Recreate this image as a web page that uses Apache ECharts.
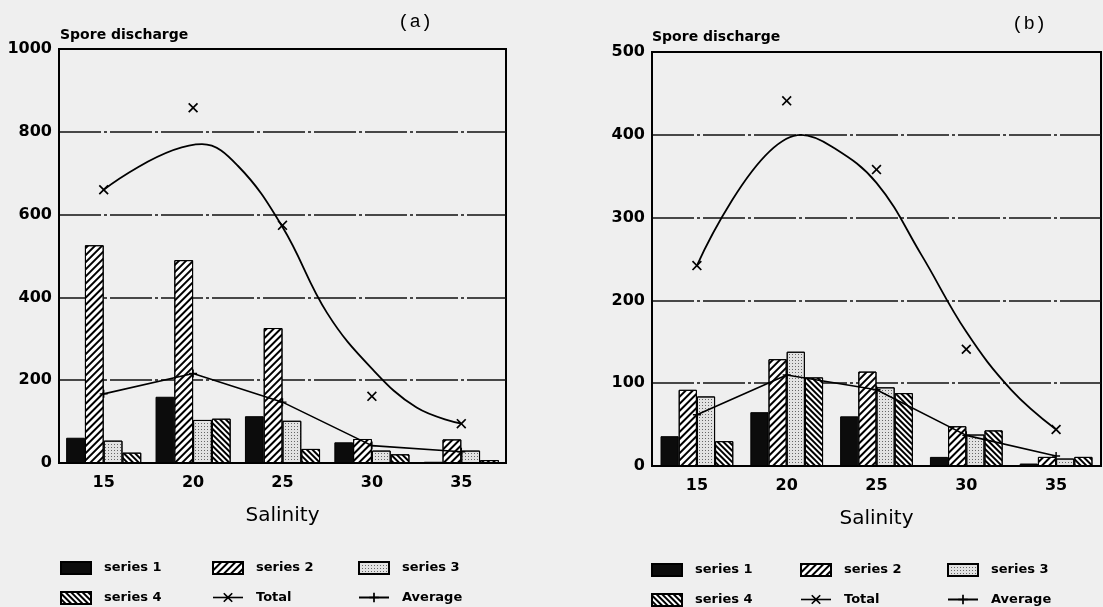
<!DOCTYPE html>
<html>
<head>
<meta charset="utf-8">
<script src="https://cdn.jsdelivr.net/npm/echarts@6/dist/echarts.min.js"></script>
<style>
html,body{margin:0;padding:0;background:#efefef;}
#chart{width:1103px;height:607px;}
</style>
</head>
<body>
<div id="chart"></div>
<script>
// ---------- data ----------
const salinity = ['15', '20', '25', '30', '35'];

// panel (a)
const aSeries1 = [61, 160, 113, 50, 3];
const aSeries2 = [526, 490, 326, 58, 57];
const aSeries3 = [54, 104, 102, 30, 30];
const aSeries4 = [25, 107, 34, 21, 7];
const aTotal   = [660, 858, 574, 161, 95];
const aAverage = [167, 216, 147, 42, 27];
const aFitX    = [15, 20.5, 22.5, 25, 27.5, 30, 32.5, 35];
const aFitY    = [660, 770, 718, 570, 362, 228, 134, 95];

// panel (b)
const bSeries1 = [36, 65, 60, 11, 3];
const bSeries2 = [92, 129, 114, 48, 11];
const bSeries3 = [84, 138, 95, 38, 9];
const bSeries4 = [30, 107, 88, 43, 11];
const bTotal   = [242, 441, 358, 141, 44];
const bAverage = [62, 110, 92, 37, 12];
const bFitX    = [15, 20.8, 22.5, 25, 27.5, 30, 32.5, 35];
const bFitY    = [242, 400, 386, 342, 255, 162, 92, 44];

const aTicks = {min: 0, max: 1000, interval: 200};
const bTicks = {min: 0, max: 500, interval: 100};

// ---------- styles ----------
const FONT = 'DejaVu Sans';
const X_SYM = 'path://M0,1.2L1.2,0L5,3.8L8.8,0L10,1.2L6.2,5L10,8.8L8.8,10L5,6.2L1.2,10L0,8.8L3.8,5Z';
const PLUS_SYM = 'path://M4.1,0H5.9V4.1H10V5.9H5.9V10H4.1V5.9H0V4.1H4.1Z';

const barStyles = [
  {color: '#0c0c0c', borderColor: '#000', borderWidth: 1},
  {color: '#ffffff', borderColor: '#000', borderWidth: 1,
   decal: {symbol: 'rect', symbolSize: 1, dashArrayX: [1, 0], dashArrayY: [1.6, 2.6], rotation: -Math.PI / 4, color: '#000'}},
  {color: '#e2e2e2', borderColor: '#000', borderWidth: 1,
   decal: {symbol: 'rect', symbolSize: 1, dashArrayX: [1, 1.2], dashArrayY: [1, 1.2], rotation: 0, color: '#666'}},
  {color: '#ffffff', borderColor: '#000', borderWidth: 1,
   decal: {symbol: 'rect', symbolSize: 1, dashArrayX: [1, 0], dashArrayY: [1.2, 1.3], rotation: Math.PI / 4, color: '#000'}}
];
const barNames = ['series 1', 'series 2', 'series 3', 'series 4'];

function gridLineStyle() {
  return {show: true, showMinLine: false, showMaxLine: false,
          lineStyle: {color: '#111', width: 1.6, type: [42, 3, 3, 3]}};
}

function xCat(gridIndex) {
  return {
    type: 'category', gridIndex: gridIndex, data: salinity,
    boundaryGap: true,
    axisTick: {show: false},
    axisLine: {show: true, lineStyle: {color: '#000', width: 2}},
    axisLabel: {color: '#000', fontFamily: FONT, fontWeight: 'bold', fontSize: 16, margin: 12},
    name: 'Salinity', nameLocation: 'middle', nameGap: 43,
    nameTextStyle: {color: '#000', fontFamily: FONT, fontSize: 20}
  };
}
function xVal(gridIndex) {
  return {type: 'value', gridIndex: gridIndex, min: 12.5, max: 37.5, show: false};
}
function yVal(gridIndex, t) {
  return {
    type: 'value', gridIndex: gridIndex, min: t.min, max: t.max, interval: t.interval,
    axisLine: {show: true, lineStyle: {color: '#000', width: 2}},
    axisTick: {show: false},
    axisLabel: {color: '#000', fontFamily: FONT, fontWeight: 'bold', fontSize: 16, margin: 7,
                formatter: v => String(v)},
    splitLine: gridLineStyle()
  };
}

function panelSeries(p, bars, total, avg, fitX, fitY, catGap) {
  const xi = p * 2, yi = p;
  const out = [];
  bars.forEach((d, i) => {
    out.push({
      name: barNames[i], type: 'bar', xAxisIndex: xi, yAxisIndex: yi, data: d,
      barGap: '0%', barCategoryGap: catGap, itemStyle: barStyles[i], z: 2
    });
  });
  out.push({
    name: 'Average', type: 'line', xAxisIndex: xi, yAxisIndex: yi, data: avg,
    symbol: PLUS_SYM, symbolSize: 8, showSymbol: true,
    lineStyle: {color: '#000', width: 1.6}, itemStyle: {color: '#000'}, z: 5
  });
  out.push({
    name: 'Total', type: 'line', xAxisIndex: xi, yAxisIndex: yi, data: total,
    symbol: X_SYM, symbolSize: 10, showSymbol: true,
    lineStyle: {color: '#000', width: 1.6, opacity: 0}, itemStyle: {color: '#000'}, z: 6
  });
  out.push({
    name: 'Total fit', type: 'line', xAxisIndex: xi + 1, yAxisIndex: yi,
    data: fitX.map((x, i) => [x, fitY[i]]),
    smooth: 0.4, symbol: 'none', showSymbol: false,
    lineStyle: {color: '#000', width: 1.8}, z: 6
  });
  return out;
}

const legendText = {color: '#000', fontFamily: FONT, fontWeight: 'bold', fontSize: 13, padding: [0, 0, 0, 8]};
function legendCol(left, top, items) {
  return {
    left: left, top: top, orient: 'vertical', itemWidth: 30, itemHeight: 12, itemGap: 16,
    padding: 0, selectedMode: false, textStyle: legendText,
    data: items.map(n => n === 'Total'
      ? {name: n, lineStyle: {opacity: 1, width: 1.6, color: '#000'}}
      : (n.indexOf('series') === 0 ? {name: n, icon: 'rect'} : {name: n}))
  };
}

const titleStyle = {color: '#000', fontFamily: FONT, fontWeight: 'bold', fontSize: 14};
const tagStyle = {color: '#000', fontFamily: 'Liberation Mono', fontWeight: 'normal', fontSize: 19};

const option = {
  backgroundColor: '#efefef',
  animation: false,
  title: [
    {text: 'Spore discharge', left: 60, top: 28, padding: 0, textStyle: titleStyle},
    {text: '(a)', left: 398, top: 12, padding: 0, textStyle: tagStyle},
    {text: 'Spore discharge', left: 652, top: 30, padding: 0, textStyle: titleStyle},
    {text: '(b)', left: 1012, top: 14, padding: 0, textStyle: tagStyle}
  ],
  grid: [
    {left: 59, right: 597, top: 49, bottom: 144, show: true, borderColor: '#000', borderWidth: 2, backgroundColor: 'transparent'},
    {left: 652, right: 2, top: 52, bottom: 141, show: true, borderColor: '#000', borderWidth: 2, backgroundColor: 'transparent'}
  ],
  xAxis: [xCat(0), xVal(0), xCat(1), xVal(1)],
  yAxis: [yVal(0, aTicks), yVal(1, bTicks)],
  legend: [
    legendCol(60, 561, ['series 1', 'series 4']),
    legendCol(212, 561, ['series 2', 'Total']),
    legendCol(358, 561, ['series 3', 'Average']),
    legendCol(651, 563, ['series 1', 'series 4']),
    legendCol(800, 563, ['series 2', 'Total']),
    legendCol(947, 563, ['series 3', 'Average'])
  ],
  series: [].concat(
    panelSeries(0, [aSeries1, aSeries2, aSeries3, aSeries4], aTotal, aAverage, aFitX, aFitY, '16%'),
    panelSeries(1, [bSeries1, bSeries2, bSeries3, bSeries4], bTotal, bAverage, bFitX, bFitY, '19%')
  )
};

const chart = echarts.init(document.getElementById('chart'), null, {renderer: 'canvas'});
chart.setOption(option);
</script>
</body>
</html>
